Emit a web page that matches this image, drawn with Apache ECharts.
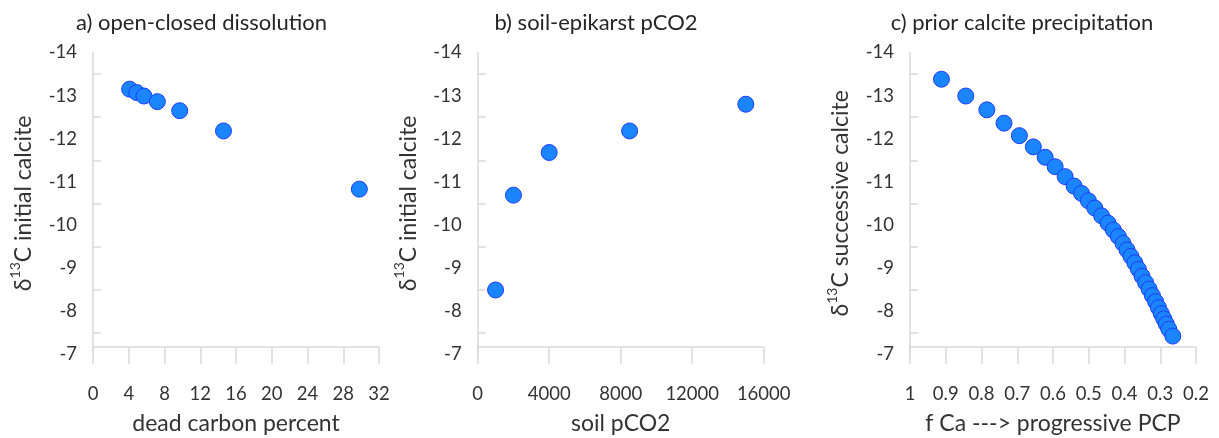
<!DOCTYPE html>
<html>
<head>
<meta charset="utf-8">
<script src="https://cdn.jsdelivr.net/npm/echarts@6/dist/echarts.min.js"></script>
<style>
html,body{margin:0;padding:0;background:#fff;}
#chart{width:1219px;height:438px;}
</style>
</head>
<body>
<div id="chart"></div>
<script>
// Panel a) open-closed dissolution
const deadCarbon = [4.1, 4.9, 5.7, 7.2, 9.7, 14.6, 29.8];
const d13cA = [-13.15, -13.07, -12.99, -12.86, -12.65, -12.18, -10.83];
// Panel b) soil-epikarst pCO2
const soilPCO2 = [1000, 2000, 4000, 8500, 15000];
const d13cB = [-8.49, -10.69, -11.68, -12.18, -12.80];
// Panel c) prior calcite precipitation
const fCa = [0.912, 0.844, 0.785, 0.737, 0.694, 0.655, 0.622, 0.594, 0.566, 0.541,
  0.520, 0.501, 0.483, 0.464, 0.446, 0.431, 0.417, 0.404, 0.393, 0.382,
  0.371, 0.361, 0.351, 0.341, 0.331, 0.322, 0.313, 0.305, 0.297, 0.290,
  0.283, 0.276, 0.265];
const d13cC = [-13.38, -12.99, -12.67, -12.36, -12.07, -11.81, -11.57, -11.35, -11.12, -10.90,
  -10.73, -10.56, -10.39, -10.21, -10.04, -9.88, -9.73, -9.57, -9.42, -9.27,
  -9.12, -8.97, -8.81, -8.66, -8.51, -8.36, -8.22, -8.08, -7.94, -7.82,
  -7.70, -7.58, -7.42];

const titles = ['a) open-closed dissolution', 'b) soil-epikarst pCO2', 'c) prior calcite precipitation'];
const xNames = ['dead carbon percent', 'soil pCO2', 'f Ca ---> progressive PCP'];
const yNameRest = ['C initial calcite', 'C initial calcite', 'C successive calcite'];
const xRanges = [[0, 32, 4], [0, 16000, 4000], [0.2, 1, 0.1]];
const yRange = [-14, -7, 1];

const FONT = 'Lato, "Open Sans", sans-serif';
const gridLefts = [93, 477.7, 910];
const gridWidth = 286;
const gridTop = 52.5;
const gridHeight = 301.7;
const axisColor = '#d9d9d9';
const textColor = '#333333';
const NAME_SIZE = 23;

const grids = gridLefts.map(l => ({left: l, top: gridTop, width: gridWidth, height: gridHeight, containLabel: false, outerBoundsMode: 'none'}));

const xAxes = xRanges.map((r, i) => ({
  type: 'value', gridIndex: i, min: r[0], max: r[1], interval: r[2],
  inverse: i === 2, offset: -7,
  name: xNames[i], nameLocation: 'middle', nameGap: 65,
  nameTextStyle: {fontFamily: FONT, fontSize: NAME_SIZE, color: textColor},
  axisLine: {show: true, lineStyle: {color: axisColor, width: 1.5}},
  axisTick: {show: true, length: 17, lineStyle: {color: axisColor, width: 1.5}},
  axisLabel: {fontFamily: FONT, fontSize: 18.5, color: textColor, margin: 37,
    formatter: v => String(Math.round(v * 10) / 10)},
  splitLine: {show: false}
}));

const yAxes = [0, 1, 2].map(i => ({
  type: 'value', gridIndex: i, min: yRange[0], max: yRange[1], interval: yRange[2],
  inverse: true,
  name: '{n|δ}{s|13}{n|' + yNameRest[i] + '}', nameLocation: 'middle', nameGap: 58, nameRotate: 90,
  nameTextStyle: {fontFamily: FONT, fontSize: NAME_SIZE, color: textColor,
    rich: {
      n: {fontFamily: FONT, fontSize: NAME_SIZE, color: textColor, lineHeight: 27, verticalAlign: 'bottom'},
      s: {fontFamily: FONT, fontSize: 14, color: textColor, lineHeight: 27, verticalAlign: 'top'}
    }},
  axisLine: {show: true, lineStyle: {color: axisColor, width: 1.5}},
  axisTick: {show: false, inside: true},
  minorTick: {show: true, splitNumber: 2, length: 8, lineStyle: {color: axisColor, width: 1.5}},
  minorSplitLine: {show: false},
  axisLabel: {fontFamily: FONT, fontSize: 18.5, color: textColor, margin: 16},
  splitLine: {show: false}
}));

const titleCenters = [196.5, 591, 1017];
const titleOpts = titles.map((t, i) => ({
  text: t, left: titleCenters[i], top: 7, textAlign: 'center',
  textStyle: {fontFamily: FONT, fontSize: 22, fontWeight: 'normal', color: '#262626'}
}));

const markerStyle = {color: '#1a85ff', borderColor: '#1f3dff', borderWidth: 1, opacity: 1};
const zip = (a, b) => a.map((v, k) => [v, b[k]]);
const seriesData = [zip(deadCarbon, d13cA), zip(soilPCO2, d13cB), zip(fCa, d13cC)];
const series = seriesData.map((d, i) => ({
  type: 'scatter', xAxisIndex: i, yAxisIndex: i, data: d,
  symbol: 'circle', symbolSize: 16, itemStyle: markerStyle, clip: false,
  emphasis: {disabled: true}
}));

const chart = echarts.init(document.getElementById('chart'), null, {renderer: 'canvas'});
chart.setOption({
  backgroundColor: '#ffffff',
  animation: false,
  title: titleOpts,
  grid: grids,
  xAxis: xAxes,
  yAxis: yAxes,
  series: series
});
</script>
</body>
</html>
